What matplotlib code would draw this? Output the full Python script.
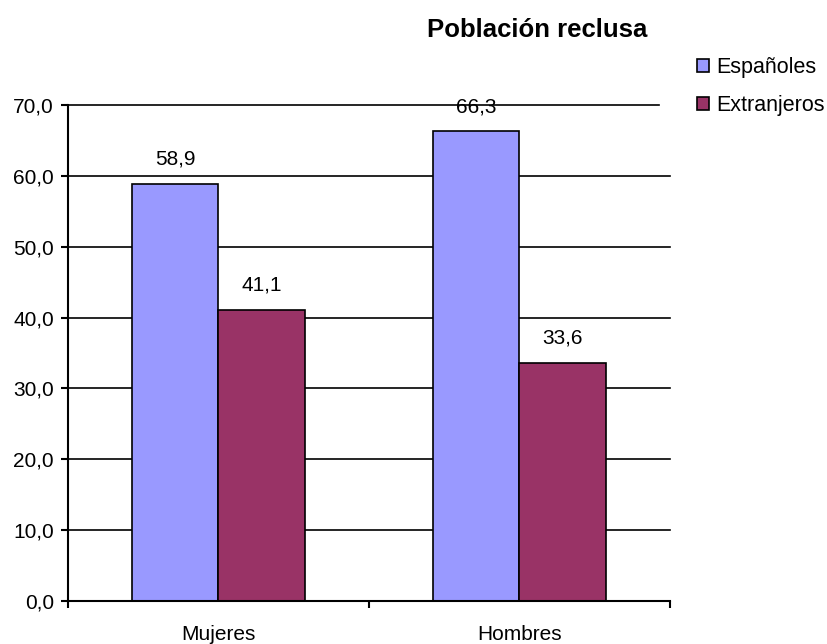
import matplotlib
matplotlib.use("Agg")
import matplotlib.pyplot as plt
import numpy as np

plt.rcParams['font.family'] = ['Liberation Sans', 'DejaVu Sans']

categorias = ["Mujeres", "Hombres"]
espanoles = [58.9, 66.3]
extranjeros = [41.1, 33.6]
series = ["Españoles", "Extranjeros"]
colores = ["#9999FF", "#993366"]
yticks = np.arange(0, 71, 10)

fig = plt.figure(figsize=(8.28, 6.44), dpi=100)
ax = fig.add_axes([0.0821, 0.0668, 0.727, 0.770])

x = np.arange(len(categorias))
w = 0.286
b1 = ax.bar(x - w/2, espanoles, w, color=colores[0], edgecolor="black", linewidth=1.2, label=series[0], zorder=3)
b2 = ax.bar(x + w/2, extranjeros, w, color=colores[1], edgecolor="black", linewidth=1.2, label=series[1], zorder=3)

# etiquetas de valor (por debajo de la rejilla, como en el original)
for bars in (b1, b2):
    for r in bars:
        v = r.get_height()
        ax.annotate(("%.1f" % v).replace(".", ","), (r.get_x() + r.get_width()/2, v),
                    xytext=(0, 13.7), textcoords="offset points", ha="center", va="baseline",
                    fontsize=15, zorder=1)

# rejilla horizontal; la de arriba es algo mas corta en el original
for t in yticks[1:]:
    ax.axhline(t, color="black", linewidth=1.2, zorder=2, clip_on=False,
               xmax=0.982 if t == yticks[-1] else 1)

ax.set_xlim(-0.5, 1.5)
ax.set_ylim(0, 70)
ax.set_yticks(yticks)
ax.set_yticklabels([("%.1f" % t).replace(".", ",") for t in yticks], fontsize=15)
ax.set_xticks([-0.5, 0.5, 1.5])
ax.set_xticklabels([])
ax.set_xticks(x, minor=True)
ax.set_xticklabels(categorias, minor=True, fontsize=15)
ax.tick_params(axis="x", which="minor", length=0, pad=17)
ax.tick_params(axis="x", which="major", length=5, width=1.5, direction="out")
ax.tick_params(axis="y", length=5, width=1.5, direction="out", pad=5)
for s in ["top", "right"]:
    ax.spines[s].set_visible(False)
for s in ["left", "bottom"]:
    ax.spines[s].set_linewidth(1.5)
    ax.spines[s].set_zorder(4)

fig.text(0.6486, 0.953, "Población reclusa", fontsize=18.5, fontweight="bold", ha="center", va="center")

leg = fig.legend(handles=[b1, b2], labels=series, loc="upper left", bbox_to_anchor=(0.842, 0.912),
                 frameon=False, fontsize=15.5, handlelength=0.56, handleheight=0.56,
                 handletextpad=0.33, labelspacing=0.8, borderpad=0, borderaxespad=0)

fig.savefig("out.png", dpi=100)
